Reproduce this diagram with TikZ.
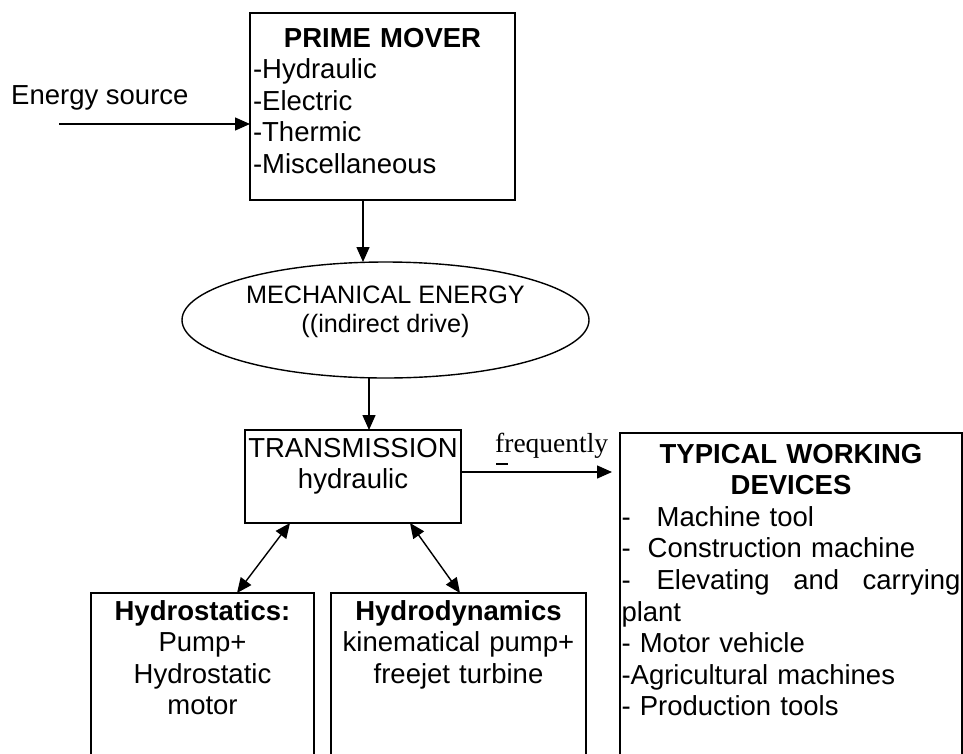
\documentclass[tikz,border=0pt]{standalone}
\usepackage{fontspec}
\setmainfont{Liberation Sans}
\newfontfamily\timesfont{Liberation Serif}
\usepackage{tikz}
\usetikzlibrary{arrows.meta,positioning,shapes.geometric}
\newcommand{\ctrline}[1]{\hspace*{0pt plus 1filll}#1\hspace*{0pt plus 1filll}\null}
\newcommand{\wordgap}{\hspace{0pt plus 1filll}}

\begin{document}
\begin{tikzpicture}[x=1pt, y=1pt, font=\fontsize{27.5pt}{31.6pt}\selectfont, box/.style={draw, line width=1.6pt, outer sep=0pt, anchor=north west, align=left, inner xsep=3pt, text height=20pt}, cbox/.style={box, align=center}, oval/.style={draw, ellipse, line width=1.4pt, outer sep=0pt, inner sep=0pt, minimum width=407pt, minimum height=116pt, align=center, font=\fontsize{25.2pt}{29pt}\selectfont, text height=47pt, text depth=23pt}, arr/.style={-{Triangle[length=15pt,width=13pt]}, line width=1.4pt}, darr/.style={{Triangle[length=15pt,width=13pt]}-{Triangle[length=15pt,width=13pt]}, line width=1.4pt}]
\useasboundingbox (0,0) rectangle (963,-753);
\clip (0,0) rectangle (963,-753);
\node[box, text width=259pt, inner ysep=14pt, text depth=139pt] (prime) at (250,-13) {\ctrline{\textbf{PRIME MOVER}}\\-Hydraulic\\-Electric\\-Thermic\\-Miscellaneous};
\node[oval, below=62pt of prime, xshift=3pt] (mech) {MECHANICAL ENERGY\\((indirect drive)};
\node[cbox, below=52pt of mech, xshift=-32.5pt, text width=212pt, inner xsep=2pt, inner ysep=7pt, text depth=59pt] (trans) {TRANSMISSION\\hydraulic};
\node[box, right=159pt of trans.north east, anchor=north west, yshift=-3pt, text width=339pt, inner xsep=1.5pt, inner ysep=10pt, text depth=330pt] (typical) {\ctrline{\textbf{TYPICAL WORKING}}\\\ctrline{\textbf{DEVICES}}\\-\hspace{26pt}Machine tool\\-\hspace{17pt}Construction machine\\-\hspace{26pt}Elevating\wordgap{} and\wordgap{} carrying\\plant\\- Motor vehicle\\-Agricultural machines\\- Production tools};
\node[cbox, below=70pt of trans.south west, anchor=north west, xshift=-154pt, text width=209pt, inner xsep=7pt, inner ysep=7pt, text depth=200pt] (hstat) {\textbf{Hydrostatics:}\\Pump+\\Hydrostatic\\motor};
\node[cbox, right=17pt of hstat.north east, anchor=north west, text width=241pt, inner xsep=7pt, inner ysep=7pt, text depth=200pt] (hdyn) {\textbf{Hydrodynamics}\\kinematical pump+\\freejet turbine};
\node[anchor=base west, inner sep=0pt] (esrc) at (11,-104) {Energy source};
\coordinate (src) at (59,-124);
\node[anchor=base west, inner sep=0pt, font=\timesfont\fontsize{27.5pt}{31.6pt}\selectfont] (freq) at (495,-452) {frequently};
\draw[arr] (src) -- (src -| prime.west);
\draw[arr] ([xshift=-19.5pt]prime.south) -- ([xshift=-19.5pt]prime.south |- mech.north);
\draw[arr] ([xshift=-16.5pt]mech.south) -- ([xshift=-16.5pt]mech.south |- trans.north);
\draw[arr, shorten >=8pt] ([yshift=4.5pt]trans.east) -- ([yshift=4.5pt]trans.east -| typical.west);
\draw[line width=2pt] ([xshift=1pt,yshift=-12pt]freq.base west) -- ++(12,0);
\draw[darr] ([xshift=-63pt]trans.south) -- ([xshift=34.5pt]hstat.north);
\draw[darr] ([xshift=57pt]trans.south) -- ([xshift=1.5pt]hdyn.north);
\end{tikzpicture}
\end{document}
